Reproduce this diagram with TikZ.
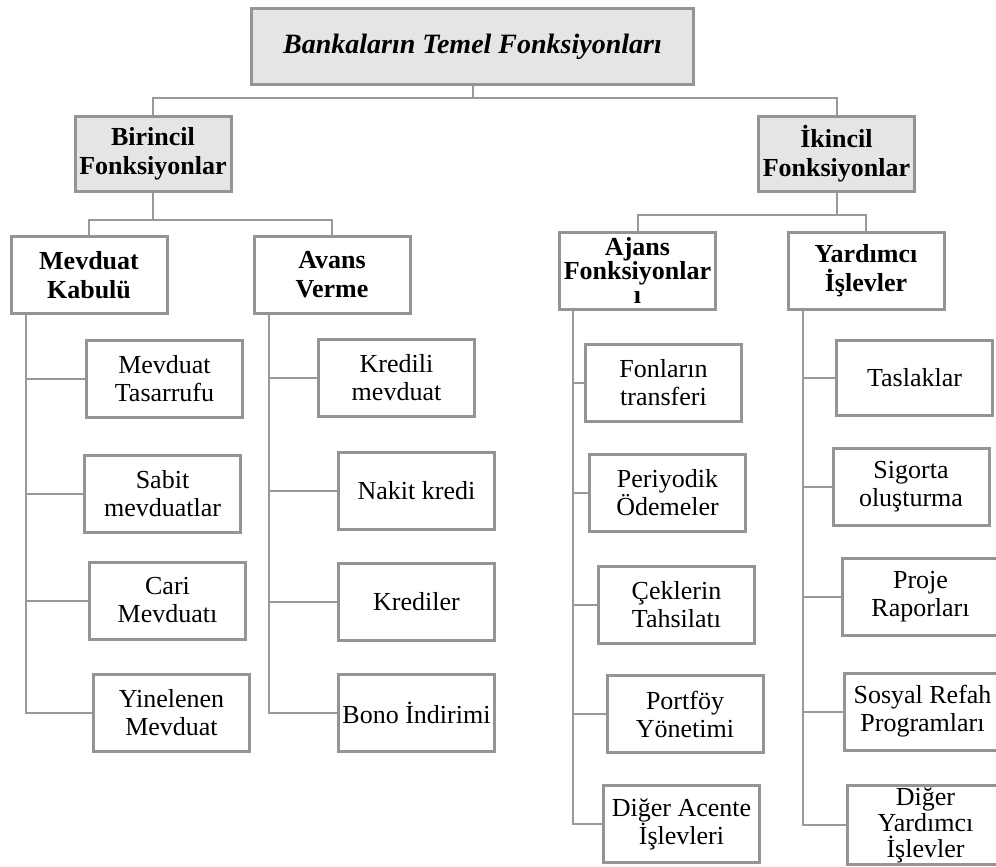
\documentclass[tikz,border=0pt]{standalone}
\usepackage{fontspec}
\setmainfont{Liberation Serif}
\usetikzlibrary{calc}
\begin{document}
\begin{tikzpicture}[x=1pt, y=-1pt, font=\fontsize{26}{28}\selectfont,
  bx/.style={draw=black!42, line width=3pt, align=center, inner sep=2pt,
             minimum width=156pt, minimum height=77pt, fill=white},
  hd/.style={bx, font=\fontsize{26}{29}\selectfont\bfseries},
  gr/.style={hd, fill=black!10, minimum height=75pt},
  ln/.style={draw=black!40, line width=2pt},
]
  \useasboundingbox (0,0) rectangle (996,867);
  \clip (0,0) rectangle (996,867);

  \node[gr, minimum width=442pt, minimum height=76pt,
        font=\fontsize{28}{30}\selectfont\bfseries\itshape] (top) at (472.5,46.5)
        {Bankaların Temel Fonksiyonları};
  \node[gr] (bir) at (153,154)   {Birincil\\Fonksiyonlar};
  \node[gr] (ikn) at (836.5,154) {İkincil\\Fonksiyonlar};

  \node[hd] (mev) at (89,275)    {Mevduat\\Kabulü};
  \node[hd] (avn) at (332,275)   {Avans\\Verme};
  \node[hd, inner sep=0pt, font=\fontsize{26}{24}\selectfont\bfseries] (ajn) at (637.5,270.5)
        {Ajans\\Fonksiyonlar\\ı};
  \node[hd] (yrd) at (866,270.5) {Yardımcı\\İşlevler};

  % mevduat kabulü
  \node[bx] (m1) at (164.5,379) {Mevduat\\Tasarrufu};
  \node[bx] (m2) at (162.5,494) {Sabit\\mevduatlar};
  \node[bx] (m3) at (167.5,600.5) {Cari\\Mevduatı};
  \node[bx] (m4) at (171.5,713) {Yinelenen\\Mevduat};

  % avans verme
  \node[bx] (a1) at (396.5,378) {Kredili\\mevduat};
  \node[bx] (a2) at (416.5,490.5) {Nakit kredi};
  \node[bx] (a3) at (416.5,601.5) {Krediler};
  \node[bx] (a4) at (416.5,713) {Bono İndirimi};

  % ajans fonksiyonları
  \node[bx] (j1) at (663.5,383) {Fonların\\transferi};
  \node[bx] (j2) at (667.5,492.5) {Periyodik\\Ödemeler};
  \node[bx] (j3) at (676.5,605) {Çeklerin\\Tahsilatı};
  \node[bx] (j4) at (685,714) {Portföy\\Yönetimi};
  \node[bx] (j5) at (681.5,824) {Diğer Acente\\İşlevleri};

  % yardımcı işlevler
  \node[bx, minimum height=75pt] (y1) at (914.5,378) {Taslaklar};
  \node[bx] (y2) at (911,487) {Sigorta\\oluşturma};
  \node[bx] (y3) at (920.5,596.5) {Proje\\Raporları};
  \node[bx] (y4) at (922.5,711.5) {Sosyal Refah\\Programları};
  \node[bx, font=\fontsize{26}{26}\selectfont] (y5) at (925.5,825) {Diğer\\Yardımcı\\İşlevler};

  \draw[ln] (top.south) -- ++(0,12) -| (bir.north);
  \draw[ln] (top.south) -- ++(0,12) -| (ikn.north);
  \draw[ln] (bir.south) -- ++(0,27) -| (mev.north);
  \draw[ln] (bir.south) -- ++(0,27) -| (avn.north);
  \draw[ln] (ikn.south) -- ++(0,22) -| (ajn.north);
  \draw[ln] (ikn.south) -- ++(0,22) -| (yrd.north);

  \foreach \c in {m1,m2,m3,m4} \draw[ln] ($(mev.south west)+(16,0)$) |- (\c.west);
  \foreach \c in {a1,a2,a3,a4} \draw[ln] ($(avn.south west)+(16,0)$) |- (\c.west);
  \foreach \c in {j1,j2,j3,j4,j5} \draw[ln] ($(ajn.south west)+(15,0)$) |- (\c.west);
  \foreach \c in {y1,y2,y3,y4,y5} \draw[ln] ($(yrd.south west)+(16,0)$) |- (\c.west);
\end{tikzpicture}
\end{document}
